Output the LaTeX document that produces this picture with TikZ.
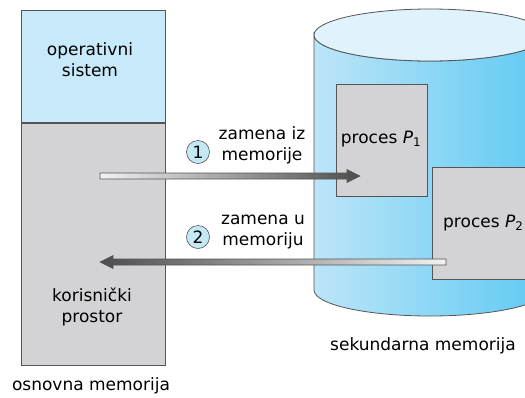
\documentclass[tikz,border=0pt]{standalone}
\usepackage{fontspec}
\setmainfont{DejaVu Sans}
\usetikzlibrary{calc}
\definecolor{osblue}{HTML}{C7E9F9}
\definecolor{usergray}{HTML}{D3D3D5}
\definecolor{linegray}{HTML}{555555}
\definecolor{numblue}{HTML}{C5E8F7}
\definecolor{cylleft}{HTML}{BCE5F8}
\definecolor{cylmid}{HTML}{E3F4FC}
\definecolor{cylright}{HTML}{5FC9F3}
\definecolor{cyltop}{HTML}{E0F2FB}

\begin{document}
\begin{tikzpicture}[x=1pt,y=-1pt,
	box/.style={draw=linegray,line width=0.8pt,inner sep=0pt},
	lbl/.style={font=\fontsize{17}{21}\selectfont,align=center,inner sep=0pt},
	num/.style={circle,draw=linegray,line width=0.6pt,fill=numblue,minimum size=23pt,inner sep=0pt,font=\fontsize{17}{17}\selectfont},
	swaparrow/.style={draw=linegray,line width=0.6pt}]
	\useasboundingbox (0,0) rectangle (525,397);
	\clip (0,0) rectangle (525,397);
	% osnovna memorija
	\node[box,fill=osblue,minimum width=144pt,minimum height=112pt,anchor=north west] (os) at (21,10) {};
	\node[box,fill=usergray,minimum width=144pt,minimum height=242pt,anchor=north west] (user) at (os.south west) {};
	\node[lbl] (oslbl) at (90,60) {operativni\\sistem};
	\node[lbl] (userlbl) at (92,307) {korisnički\\prostor};
	\node[lbl] (mainlbl) at (91,386) {osnovna memorija};
	% sekundarna memorija
	\shade[left color=cylleft,middle color=cylmid,right color=cylright,draw=linegray,line width=0.8pt]
		(314,35) -- (314,290) arc[start angle=180,end angle=0,x radius=116,y radius=26]
		-- (546,35) arc[start angle=0,end angle=180,x radius=116,y radius=26] -- cycle;
	\draw[fill=cyltop,draw=linegray,line width=0.8pt] (430,35) ellipse[x radius=116,y radius=26];
	\node[lbl] (disklbl) at (423,346) {sekundarna memorija};
	\node[box,fill=usergray,minimum width=91pt,minimum height=112pt,anchor=north west] (p1) at (336,84) {};
	\node[lbl] (p1lbl) at (381,139) {proces {\itshape P}\textsubscript{1}};
	\node[box,fill=usergray,minimum width=120pt,minimum height=112pt,anchor=north west] (p2) at (432,167) {};
	\node[lbl,anchor=west] (p2lbl) at (443,223) {proces {\itshape P}\textsubscript{2}};
	% zamena
	\node[num] (n1) at (198,152) {1};
	\node[lbl] (out) at (262,145) {zamena iz\\memorije};
	\node[num] (n2) at (198,237) {2};
	\node[lbl] (in) at (263,232) {zamena u\\memoriju};
	\coordinate (outtail) at (100,176);
	\coordinate (outtip) at (360,176);
	\coordinate (intail) at (446,262);
	\coordinate (intip) at (100,262);
	\shade[swaparrow,left color=black!5,right color=black!70]
		($(outtail)+(0,-3)$) -- ($(outtip)+(-13,-3)$) -- ($(outtip)+(-13,-6.5)$) -- (outtip)
		-- ($(outtip)+(-13,6.5)$) -- ($(outtip)+(-13,3)$) -- ($(outtail)+(0,3)$) -- cycle;
	\shade[swaparrow,left color=black!70,right color=black!5]
		($(intail)+(0,-3)$) -- ($(intip)+(13,-3)$) -- ($(intip)+(13,-6.5)$) -- (intip)
		-- ($(intip)+(13,6.5)$) -- ($(intip)+(13,3)$) -- ($(intail)+(0,3)$) -- cycle;
\end{tikzpicture}
\end{document}
